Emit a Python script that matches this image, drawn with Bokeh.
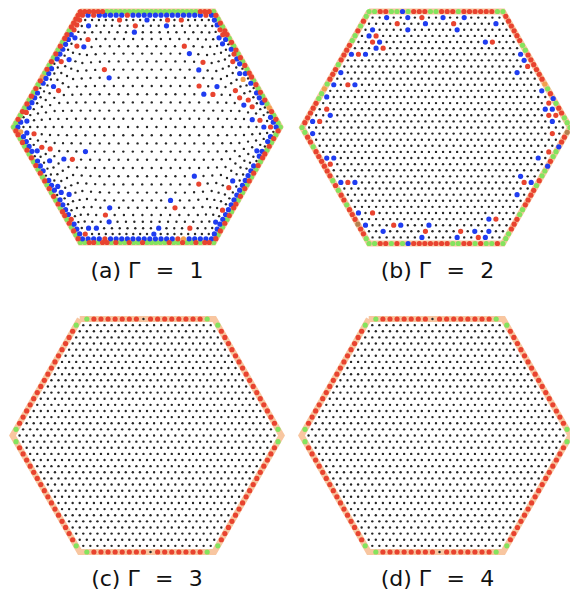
import numpy as np
from bokeh.plotting import figure
from bokeh.models import Range1d, ColumnDataSource
from bokeh.embed import file_html
from bokeh.resources import INLINE
from bokeh.core.properties import value

SQ3 = np.sqrt(3.0)

# ---------------- layout of the four panels (reference pixels) ----------------
panel_cx = [146.5, 435.5, 146.5, 435.5]
panel_cy = [126.5, 127.0, 435.0, 435.0]
panel_h = [115.5, 116.0, 116.5, 116.5]          # apothem of the hexagonal wall
SP = "\u2002\u2009"
labels = ["(a) \u0393" + SP + "=" + SP + "1", "(b) \u0393" + SP + "=" + SP + "2",
          "(c) \u0393" + SP + "=" + SP + "3", "(d) \u0393" + SP + "=" + SP + "4"]
label_x = [146.5, 437.0, 146.5, 437.0]
label_y = [270, 270, 578, 578]

# colour codes: k black, r red, b blue, g green, o orange, n brown, ' ' empty
COLORS = {"k": "#262626", "r": "#e8432f", "b": "#1f3cf0", "g": "#84e35e",
          "o": "#f2a04e", "n": "#b5804e"}
BAND = "#f8c6a0"

# ---------------- panel (a) Gamma = 1 ----------------
# wall ring, 6 edges (TL->TR, TR->R, R->BR, BR->BL, BL->L, L->TL)
a_wall = ["rrrrrrgggggggggggggggggggggrrr",
          "grgrgrrgrgrgrgrgrrgrgrgrgorgrg",
          "grgrgrgrrgrgrgrgrgrgrrgrgrgrgr",
          "grrgrggrggrgggggrggrggrgrrgrrg",
          "grgrgrgrrgrgrgrgrgrgrgrgrgrgrr",
          "ggrgrgrgrgrgrogrgrgrgrgrrgrrrr"]
# second ring (just inside the wall)
a_ring1_h = 111.8
a_ring1 = ["rbrbbbbbrbbbbbbbbbbbbbr",
           "bbbrbbkbrbbkbkbkbbbkkbb",
           "bkbbkbbkbbbkbbbbkbbbbbb",
           "bbbbbbrbbbbbbbbbbbbrbbb",
           "bbbbbbbbbkbbbkbbbkbbbbb",
           "bbkbbbbbkbbbbkbbbbbbrrb"]
# inner rings: apothem and particles per edge
a_inner_h = [107.0, 101.2, 94.8, 88.0, 80.8, 73.4, 65.6, 57.4, 49.2, 41.0,
             32.8, 24.6, 16.4, 8.2, 0.0]
a_inner_k = [18, 15, 13, 11, 10, 9, 8, 7, 6, 5, 4, 3, 2, 1, 0]
a_red_x = [119.0, 133.3, 164.3, 181.7, 81.7, 76.0, 78.3, 89.0, 62.7, 61.7, 105.0,
           187.3, 199.3, 201.0, 216.0, 233.3, 240.7, 248.3, 248.3, 231.0, 222.7,
           260.0, 269.3, 34.7, 42.3, 50.7, 72.7, 198.3, 230.0, 229.3, 221.7,
           176.0, 109.0, 99.3, 82.7, 71.0, 191.7, 270.0, 25.0]
a_red_y = [20.7, 26.7, 20.7, 21.7, 18.3, 27.3, 44.3, 41.7, 61.7, 88.3, 68.3,
           46.0, 61.7, 84.3, 95.0, 90.0, 97.7, 99.0, 106.0, 59.3, 36.7,
           121.7, 127.7, 136.0, 145.0, 147.7, 156.0, 185.7, 185.0, 201.7, 211.7,
           208.3, 215.0, 228.3, 231.0, 218.3, 228.3, 140.0, 113.3]
a_blue_x = [145.0, 135.0, 164.3, 87.3, 74.0, 71.7, 83.3, 65.0, 61.7, 69.3, 50.0,
            46.7, 40.0, 53.3, 35.0, 32.7, 29.3, 27.7, 106.0, 187.3, 199.0, 200.0,
            216.7, 218.3, 221.7, 228.3, 237.7, 240.0, 240.7, 254.0, 263.3, 28.3,
            38.3, 51.7, 65.7, 81.7, 58.3, 61.7, 70.0, 66.7, 75.0, 87.3, 93.3,
            105.7, 111.0, 151.7, 155.0, 170.0, 198.3, 230.0, 218.3, 222.7, 231.7,
            238.3, 246.7, 255.0, 255.0, 266.7]
a_blue_y = [21.7, 33.3, 28.3, 26.7, 33.3, 38.3, 48.3, 46.7, 51.7, 63.3, 69.3,
            76.7, 83.3, 88.3, 90.0, 100.0, 106.7, 117.7, 77.3, 53.3, 69.3, 93.3,
            88.3, 35.0, 45.0, 48.3, 63.3, 71.7, 104.3, 120.0, 126.7, 135.0,
            150.0, 161.7, 156.0, 152.7, 183.3, 195.0, 191.7, 210.0, 222.7, 229.3,
            227.7, 221.7, 207.3, 232.7, 225.0, 203.3, 178.3, 178.3, 220.0, 216.7,
            203.3, 196.7, 180.0, 166.7, 151.7, 143.3]
a_orange_x = [245.0, 185.0, 21.7]
a_orange_y = [80.0, 238.3, 133.3]

# ---------------- panel (b) Gamma = 2 ----------------
b_wall = ["ggrrggbgrrrggrrrgrrrrrrg",
          "grrrrrrggrrrrrrogrbgrrgg",
          "gnrrbggrbggrgrrrrggrrrgg",
          "grggrgrrggrrrrrrrbgrgrrg",
          "ggrrnrrrgrrgrgrrrrrrgrrg",
          "grrrrrggogrrrgrrrrggrgrg"]
b_rows = 19                                    # lattice rings inside the wall
b_red_x = [398.3, 422.7, 455.7, 491.0, 375.0, 372.7, 381.7, 360.0, 346.7, 325.0,
           318.3, 330.0, 348.3, 371.7, 371.7, 392.7, 426.7, 463.3, 476.7, 494.3,
           524.0, 548.3, 548.3, 550.0, 557.3, 548.3, 527.3]
b_red_y = [26.0, 16.7, 23.3, 40.0, 34.3, 43.3, 44.3, 52.3, 83.3, 111.7,
           120.7, 162.3, 181.7, 209.3, 215.0, 225.0, 230.7, 230.0, 237.3, 221.7,
           181.7, 154.0, 115.0, 104.0, 117.3, 131.7, 62.7]
b_blue_x = [385.0, 405.0, 423.3, 405.0, 441.0, 465.7, 455.7, 495.0, 485.0, 371.7,
            369.3, 377.3, 376.0, 366.0, 352.7, 340.0, 352.7, 327.3, 327.3, 331.0,
            311.7, 311.7, 326.7, 335.0, 341.7, 354.0, 356.7, 366.7, 382.7, 398.3,
            426.0, 423.3, 459.3, 476.7, 482.7, 489.3, 489.3, 517.7, 518.3, 536.7,
            535.7, 540.7, 544.0, 554.0, 559.3, 520.0, 530.7, 516.0]
b_blue_y = [16.0, 16.7, 23.3, 30.0, 17.3, 16.7, 30.0, 22.7, 42.3, 28.3,
            35.7, 40.0, 49.0, 55.7, 52.3, 72.7, 87.3, 84.0, 96.0, 115.0,
            120.7, 131.7, 156.7, 159.3, 182.7, 178.3, 209.3, 226.7, 231.7, 222.7,
            224.0, 237.3, 236.7, 230.0, 236.0, 231.7, 217.3, 193.3, 178.3, 159.3,
            186.7, 88.3, 106.0, 123.3, 108.3, 53.3, 58.3, 69.3]

# ---------------- panels (c) and (d): perfect crystal ----------------
c_wall = [" grrrrrrrkrrrrrrrrg", " grrrrrrrrrrrrrrrrg", " grrrrrrrrrrrrrrrrg",
          " grrrrrrrkrrrrrrrrg", " grrrrrrrrrrrrrrrrg", " grrrrrrrrrrrrrrrrg"]
d_wall = [" grrrrrrrkrrrrrrrrg", " grrrrrrrrrrrrrrrrg", " grrrrrrrrrrrrrrrrg",
          " grrrrrrrkrrrrrrrrg", " grrrrrrrrrrrrrrrrg", " grrrrrrrrrrrrrrrrg"]
cd_rows = 19


# ---------------- geometry helpers ----------------
def corners(h):
    R = 2.0 * h / SQ3
    return [(-R / 2, -h), (R / 2, -h), (R, 0.0), (R / 2, h), (-R / 2, h), (-R, 0.0)]


def ring(cx, cy, h, k):
    if k == 0:
        return [(cx, cy, 0, 0)]
    cs = corners(h)
    out = []
    for e in range(6):
        x0, y0 = cs[e]
        x1, y1 = cs[(e + 1) % 6]
        for t in range(k):
            f = t / k
            out.append((cx + x0 + (x1 - x0) * f, cy + y0 + (y1 - y0) * f, e, t))
    return out


def coded_ring(cx, cy, h, edges):
    k = len(edges[0])
    pts = []
    for (x, y, e, t) in ring(cx, cy, h, k):
        code = edges[e][t] if t < len(edges[e]) else "k"
        if code != " ":
            pts.append([x, y, code])
    return pts


def snap(pts, xs, ys, code):
    arr = np.array([[q[0], q[1]] for q in pts])
    for x, y in zip(xs, ys):
        d = (arr[:, 0] - x) ** 2 + (arr[:, 1] - y) ** 2
        pts[int(np.argmin(d))][2] = code


all_pts = []
bands = []

# panel (a)
cx, cy, h = panel_cx[0], panel_cy[0], panel_h[0]
inner = coded_ring(cx, cy, a_ring1_h, a_ring1)
for hh, kk in zip(a_inner_h, a_inner_k):
    inner += [[x, y, "k"] for (x, y, e, t) in ring(cx, cy, hh, kk)]
snap(inner, a_red_x, a_red_y, "r")
snap(inner, a_blue_x, a_blue_y, "b")
snap(inner, a_orange_x, a_orange_y, "o")
all_pts += inner + coded_ring(cx, cy, h, a_wall)
bands.append((cx, cy, h))

# panel (b)
cx, cy, h = panel_cx[1], panel_cy[1], panel_h[1]
inner = []
for j in range(b_rows):
    inner += [[x, y, "k"] for (x, y, e, t) in ring(cx, cy, j * h / b_rows, j)]
snap(inner, b_red_x, b_red_y, "r")
snap(inner, b_blue_x, b_blue_y, "b")
all_pts += inner + coded_ring(cx, cy, h, b_wall)
bands.append((cx, cy, h))

# panels (c), (d)
for idx, wall in ((2, c_wall), (3, d_wall)):
    cx, cy, h = panel_cx[idx], panel_cy[idx], panel_h[idx]
    for j in range(cd_rows):
        all_pts += [[x, y, "k"] for (x, y, e, t) in ring(cx, cy, j * h / cd_rows, j)]
    all_pts += coded_ring(cx, cy, h, wall)
    bands.append((cx, cy, h))

# ---------------- figure ----------------
p = figure(width=570, height=595, x_range=Range1d(0, 570), y_range=Range1d(595, 0),
           x_axis_type=None, y_axis_type=None, toolbar_location=None,
           output_backend="svg", min_border=0)
p.outline_line_color = None
p.background_fill_color = "white"
p.border_fill_color = "white"

for (cx, cy, h) in bands:
    cs = corners(h)
    xs = [cx + c[0] for c in cs] + [cx + cs[0][0]]
    ys = [cy + c[1] for c in cs] + [cy + cs[0][1]]
    p.line(xs, ys, line_color=BAND, line_width=6, line_join="miter")

for code in ["k", "g", "o", "n", "b", "r"]:
    sel = [q for q in all_pts if q[2] == code]
    if not sel:
        continue
    src = ColumnDataSource(dict(x=[q[0] for q in sel], y=[q[1] for q in sel]))
    size = 2.4 if code == "k" else 5.2
    p.scatter("x", "y", source=src, size=size, fill_color=COLORS[code],
              line_color=None)

p.text(x=label_x, y=label_y, text=labels, text_align="center",
       text_baseline="middle", text_font=value("DejaVu Sans"),
       text_font_size="22px", text_color="#111111")

open("out.html", "w").write(file_html(p, INLINE))
